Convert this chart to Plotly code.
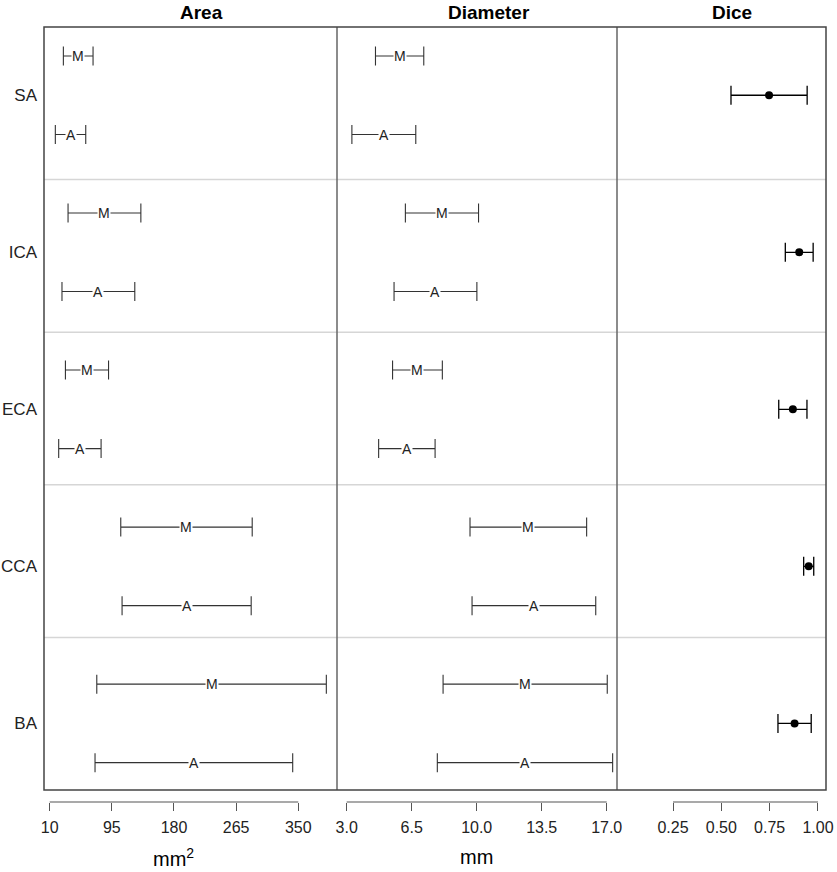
import plotly.graph_objects as go

# ---------------- data ----------------
regions = ["SA", "ICA", "ECA", "CCA", "BA"]

area_M_mean = [49.0, 84.9, 61.0, 197.1, 231.4]
area_M_sd = [20.3, 49.8, 29.5, 89.9, 157.0]
area_A_mean = [38.5, 76.6, 51.3, 197.3, 207.2]
area_A_sd = [20.8, 49.8, 29.0, 88.3, 135.2]

diam_M_mean = [5.85, 8.13, 6.81, 12.78, 12.61]
diam_M_sd = [1.30, 1.97, 1.34, 3.14, 4.42]
diam_A_mean = [5.00, 7.78, 6.24, 13.08, 12.60]
diam_A_sd = [1.72, 2.23, 1.52, 3.33, 4.72]

dice_mean = [0.747, 0.903, 0.870, 0.952, 0.879]
dice_sd = [0.197, 0.072, 0.073, 0.026, 0.086]

panel_titles = ["Area", "Diameter", "Dice"]
area_ticks = [10, 95, 180, 265, 350]
area_ticktext = ["10", "95", "180", "265", "350"]
diam_ticks = [3.0, 6.5, 10.0, 13.5, 17.0]
diam_ticktext = ["3.0", "6.5", "10.0", "13.5", "17.0"]
dice_ticks = [0.25, 0.50, 0.75, 1.00]
dice_ticktext = ["0.25", "0.50", "0.75", "1.00"]
unit_titles = ["mm<sup>2</sup>", "mm", ""]

# ---------------- figure ----------------
FONT = "Liberation Sans, Arial, Helvetica, sans-serif"
W, H = 837, 872
ML, MR, MT, MB = 44, 11, 27, 70
plot_w = W - ML - MR
plot_h = H - MT - MB
y_d0 = 12 / plot_h
b1 = 293 / plot_w
b2 = 573 / plot_w

n = len(regions)
y_M = [2 * i for i in range(n)]
y_A = [2 * i + 1 for i in range(n)]
y_mid = [2 * i + 0.5 for i in range(n)]

fig = go.Figure()
bar_color = "#333333"

def add_pair(xa, mM, sM, mA, sA):
    for means, sds, ys in ((mM, sM, y_M), (mA, sA, y_A)):
        fig.add_trace(go.Scatter(
            x=means, y=ys, xaxis=xa, yaxis="y", mode="markers",
            marker=dict(size=1, color="rgba(0,0,0,0)"),
            error_x=dict(type="data", array=sds, symmetric=True,
                         width=9.5, thickness=1.1, color=bar_color),
            showlegend=False, hoverinfo="skip"))

add_pair("x", area_M_mean, area_M_sd, area_A_mean, area_A_sd)
add_pair("x2", diam_M_mean, diam_M_sd, diam_A_mean, diam_A_sd)

fig.add_trace(go.Scatter(
    x=dice_mean, y=y_mid, xaxis="x3", yaxis="y", mode="markers",
    marker=dict(size=8, color="black"),
    error_x=dict(type="data", array=dice_sd, symmetric=True,
                 width=9.5, thickness=1.3, color="black"),
    showlegend=False, hoverinfo="skip"))

annotations = []
for xref, mM, mA in (("x", area_M_mean, area_A_mean), ("x2", diam_M_mean, diam_A_mean)):
    for i in range(n):
        for val, yy, lab in ((mM[i], y_M[i], "M"), (mA[i], y_A[i], "A")):
            annotations.append(dict(
                x=val, y=yy, xref=xref, yref="y", text=lab, showarrow=False,
                bgcolor="white", borderpad=0,
                font=dict(family=FONT, size=14, color="#222")))

# panel titles
title_x = [201, 488.8, 731.5]
for t, px in zip(panel_titles, title_x):
    annotations.append(dict(
        x=(px - ML) / plot_w, y=1 + (MT - 12) / plot_h, xref="paper", yref="paper",
        text=f"<b>{t}</b>", showarrow=False, xanchor="center", yanchor="middle",
        font=dict(family=FONT, size=19, color="black")))

# unit titles centred under the tick span
for xref, ticks, ut in (("x", area_ticks, unit_titles[0]), ("x2", diam_ticks, unit_titles[1])):
    annotations.append(dict(
        x=(ticks[0] + ticks[-1]) / 2, y=-(857 - (H - MB)) / plot_h,
        xref=xref, yref="paper", text=ut, showarrow=False,
        xanchor="center", yanchor="middle",
        font=dict(family=FONT, size=20, color="black")))

shapes = []
# row separators
for k in range(1, n):
    yy = y_d0 + (1 - y_d0) * k / n
    shapes.append(dict(type="line", xref="paper", yref="paper", x0=0, x1=1,
                       y0=yy, y1=yy, line=dict(color="#d6d6d6", width=1.5), layer="below"))
# panel borders
for xx in (b1, b2):
    shapes.append(dict(type="line", xref="paper", yref="paper", x0=xx, x1=xx,
                       y0=y_d0, y1=1, line=dict(color="#666666", width=1.5)))
shapes.append(dict(type="rect", xref="paper", yref="paper", x0=0, x1=1,
                   y0=y_d0, y1=1, line=dict(color="#444444", width=1.5)))
# R-style axis lines spanning first to last tick
for xref, ticks in (("x", area_ticks), ("x2", diam_ticks), ("x3", dice_ticks)):
    shapes.append(dict(type="line", xref=xref, yref="paper", x0=ticks[0], x1=ticks[-1],
                       y0=0, y1=0, line=dict(color="#555555", width=1.2)))

common_x = dict(anchor="free", position=0, ticks="outside", ticklen=8,
                tickcolor="#555555", tickwidth=1.2, showline=False,
                showgrid=False, zeroline=False, automargin=False,
                tickfont=dict(family=FONT, size=16, color="#222"),
                ticklabelstandoff=3, fixedrange=True)

fig.update_layout(
    template="none",
    width=W, height=H,
    margin=dict(l=ML, r=MR, t=MT, b=MB, pad=0, autoexpand=False),
    paper_bgcolor="white", plot_bgcolor="white",
    font=dict(family=FONT),
    xaxis=dict(domain=[0, b1], range=[2.2, 403], tickvals=area_ticks,
               ticktext=area_ticktext, **common_x),
    xaxis2=dict(domain=[b1, b2], range=[2.478, 17.555], tickvals=diam_ticks,
                ticktext=diam_ticktext, **common_x),
    xaxis3=dict(domain=[b2, 1], range=[-0.0397, 1.0415], tickvals=dice_ticks,
                ticktext=dice_ticktext, **common_x),
    yaxis=dict(domain=[y_d0, 1], range=[9.348, -0.369], anchor="x",
               tickvals=y_mid, ticktext=regions, ticks="", showgrid=False,
               zeroline=False, showline=False, ticklabelstandoff=6, automargin=False,
               tickfont=dict(family=FONT, size=17, color="#222"), fixedrange=True),
    annotations=annotations,
    shapes=shapes,
    showlegend=False,
)

fig.write_html(
    "out.html",
    config={"displayModeBar": False},
    post_script="document.body.style.margin='0';document.body.style.overflow='hidden';",
)
